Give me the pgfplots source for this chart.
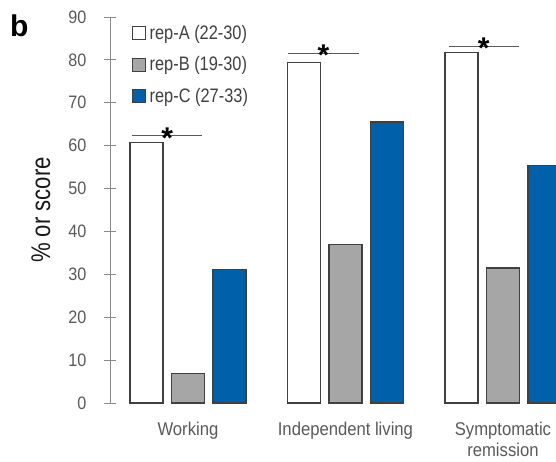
\documentclass[border=0pt]{standalone}
\usepackage{fontspec}
\setmainfont{Liberation Sans}
\newfontfamily\tickfont[FakeStretch=0.9]{Liberation Sans}
\newfontfamily\legfont[FakeStretch=0.84]{Liberation Sans}
\newfontfamily\labfont[FakeStretch=0.82]{Liberation Sans}
\usepackage{pgfplots}
\pgfplotsset{compat=1.18}

\definecolor{txtgray}{HTML}{595959}
\definecolor{axgray}{HTML}{8C8C8C}
\definecolor{edge}{HTML}{404040}
\definecolor{barB}{HTML}{A6A6A6}
\definecolor{barC}{HTML}{0061AA}

\pgfplotsset{
  sq legend/.style={legend image code/.code={
      \draw[##1, line width=0.8pt] (0pt,-6.5pt) rectangle (13pt,6.5pt);}},
}
\tikzset{
  sigstar/.style={pos=0.5, anchor=base, yshift=-12.5pt, text=black, inner sep=0pt,
      font=\fontsize{30}{30}\selectfont\bfseries},
}

\begin{document}
\begin{tikzpicture}
\begin{axis}[
    scale only axis,
    width=446pt, height=386pt,
    xmin=-0.495, xmax=2.337,
    ymin=0, ymax=90,
    ybar, bar width=33pt,
    axis y line=left, axis x line=bottom,
    x axis line style={draw=none},
    y axis line style={-, draw=axgray, line width=0.8pt},
    xtick={0,1,2},
    xticklabels={Working, Independent living, Symptomatic\\remission},
    xtick style={draw=none},
    xticklabel style={align=center, text=txtgray, yshift=-10pt,
        font=\tickfont\fontsize{18.5}{21}\selectfont},
    ytick={0,10,...,90},
    ytick style={draw=axgray, line width=0.8pt},
    major tick length=12pt, tick align=center,
    yticklabel style={text=txtgray, xshift=-14pt,
        font=\tickfont\fontsize{18}{20}\selectfont},
    /pgf/number format/assume math mode=true,
    ylabel={\% or score},
    ylabel style={at={(axis description cs:-0.155,0.5)}, anchor=center,
        font=\labfont\fontsize{27}{30}\selectfont, text=black!90},
    legend style={at={(axis description cs:0.043,0.99)}, anchor=north west,
        draw=none, fill=none, text=edge, row sep=12pt,
        /tikz/every odd column/.append style={column sep=1.5pt},
        font=\legfont\fontsize{19.5}{22}\selectfont},
    legend cell align=left,
]
\addplot[sq legend, fill=white, draw=edge, line width=1.2pt, bar shift=-41.5pt]
    coordinates {(0,60.7) (1,79.3) (2,81.8)};
\addplot[sq legend, fill=barB, draw=edge, line width=1.2pt, bar shift=0pt]
    coordinates {(0,6.9) (1,36.9) (2,31.5)};
\addplot[sq legend, fill=barC, draw=edge, line width=1.2pt, bar shift=41.5pt]
    coordinates {(0,31.1) (1,65.5) (2,55.4)};
\legend{rep-A (22-30), rep-B (19-30), rep-C (27-33)}

% significance lines
\addplot[sharp plot, forget plot, draw=txtgray, line width=1.2pt]
    coordinates {(-0.355,62.3) (0.09,62.3)} node[sigstar] {*};
\addplot[sharp plot, forget plot, draw=txtgray, line width=1.2pt]
    coordinates {(0.638,81.5) (1.083,81.5)} node[sigstar] {*};
\addplot[sharp plot, forget plot, draw=txtgray, line width=1.2pt]
    coordinates {(1.657,83.2) (2.10,83.2)} node[sigstar] {*};
\end{axis}
\node[anchor=base west, inner sep=0pt, font=\fontsize{30}{30}\selectfont\bfseries]
    at (-100pt,366pt) {b};
\pgfresetboundingbox
\path[use as bounding box] (-110pt,-58pt) rectangle (446pt,403pt);
\end{tikzpicture}
\end{document}
